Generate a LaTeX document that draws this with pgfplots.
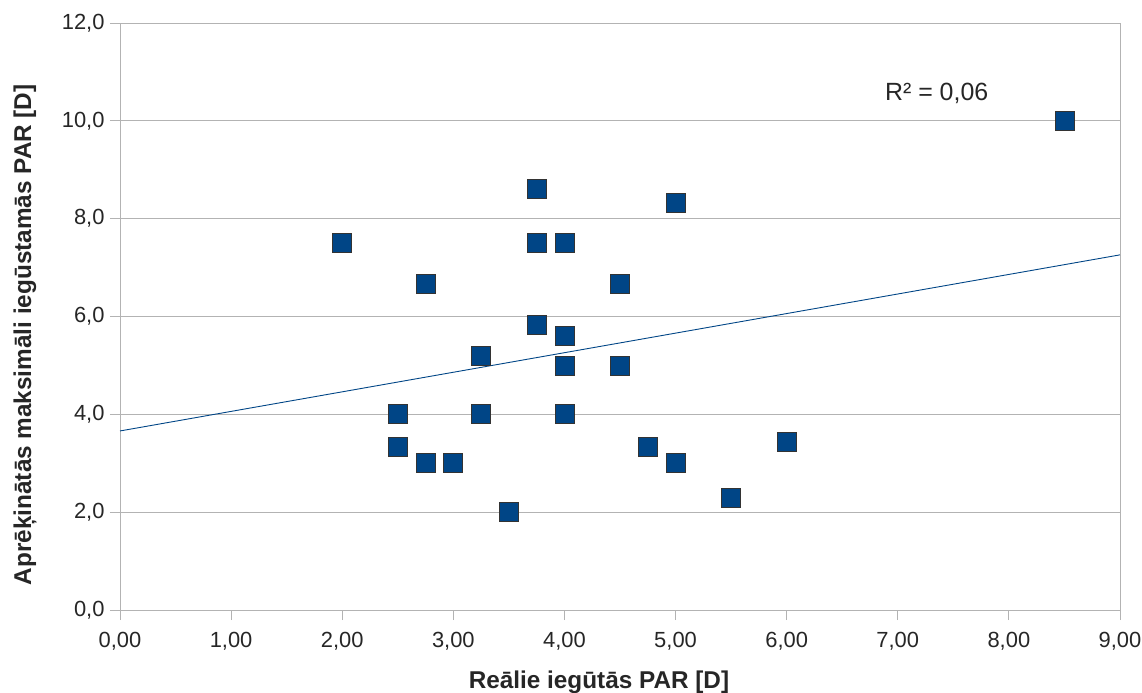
\documentclass[border=0pt]{standalone}
\usepackage{pgfplots}
\pgfplotsset{compat=1.18}
\usepackage{fontspec}
\setmainfont{Liberation Sans}
\definecolor{lobl}{HTML}{004586}
\definecolor{gridc}{HTML}{B3B3B3}
\begin{document}
\begin{tikzpicture}[x=1bp,y=1bp]
\path[use as bounding box] (-120bp,-83bp) rectangle (1022bp,610bp);
\begin{axis}[
  at={(0,0)}, anchor=south west,
  scale only axis, width=1000bp, height=587bp,
  xmin=0, xmax=9, ymin=0, ymax=12,
  xtick={0,1,...,9}, ytick={0,2,...,12},
  xtick pos=bottom, ytick pos=left,
  axis line style={gridc},
  ymajorgrids, major grid style={gridc, line width=0.8pt},
  tick align=outside, major tick length=10bp,
  tick style={gridc, line width=0.8pt},
  xticklabel style={/pgf/number format/fixed, /pgf/number format/fixed zerofill, /pgf/number format/precision=2, /pgf/number format/use comma, /pgf/number format/assume math mode=true, yshift=-9bp},
  yticklabel style={/pgf/number format/fixed, /pgf/number format/fixed zerofill, /pgf/number format/precision=1, /pgf/number format/use comma, /pgf/number format/assume math mode=true, xshift=-2bp},
  ticklabel style={font=\fontsize{22}{26}\selectfont, text=black!85},
  xlabel={\bfseries Reālie iegūtās PAR [D]},
  ylabel={\bfseries Aprēķinātās maksimāli iegūstamās PAR [D]},
  label style={font=\fontsize{24.4}{28}\selectfont, text=black!85},
  xlabel style={at={(axis description cs:0.479,0)}, anchor=center, yshift=-72bp},
  ylabel style={at={(axis description cs:0,0.469)}, anchor=center, yshift=95bp},
  clip=false,
]
\addplot[only marks, mark=square*, mark size=9.5bp, mark options={fill=lobl, draw=black!80, line width=0.8pt}] coordinates {
(2.00,7.50) (2.50,4.00) (2.50,3.33) (2.75,6.67) (2.75,3.00) (3.00,3.00)
(3.25,5.20) (3.25,4.00) (3.50,2.00) (3.75,8.60) (3.75,7.50) (3.75,5.83)
(4.00,7.50) (4.00,5.60) (4.00,5.00) (4.00,4.00) (4.50,6.67) (4.50,5.00)
(4.75,3.33) (5.00,8.33) (5.00,3.00) (5.50,2.29) (6.00,3.43) (8.50,10.00)
};
\addplot[lobl, line width=0.9pt, no marks] coordinates {(0,3.66) (9,7.26)};
\node[font=\fontsize{25}{30}\selectfont, text=black!85] at (axis cs:7.35,10.57) {R² = 0,06};
\end{axis}
\end{tikzpicture}
\end{document}
